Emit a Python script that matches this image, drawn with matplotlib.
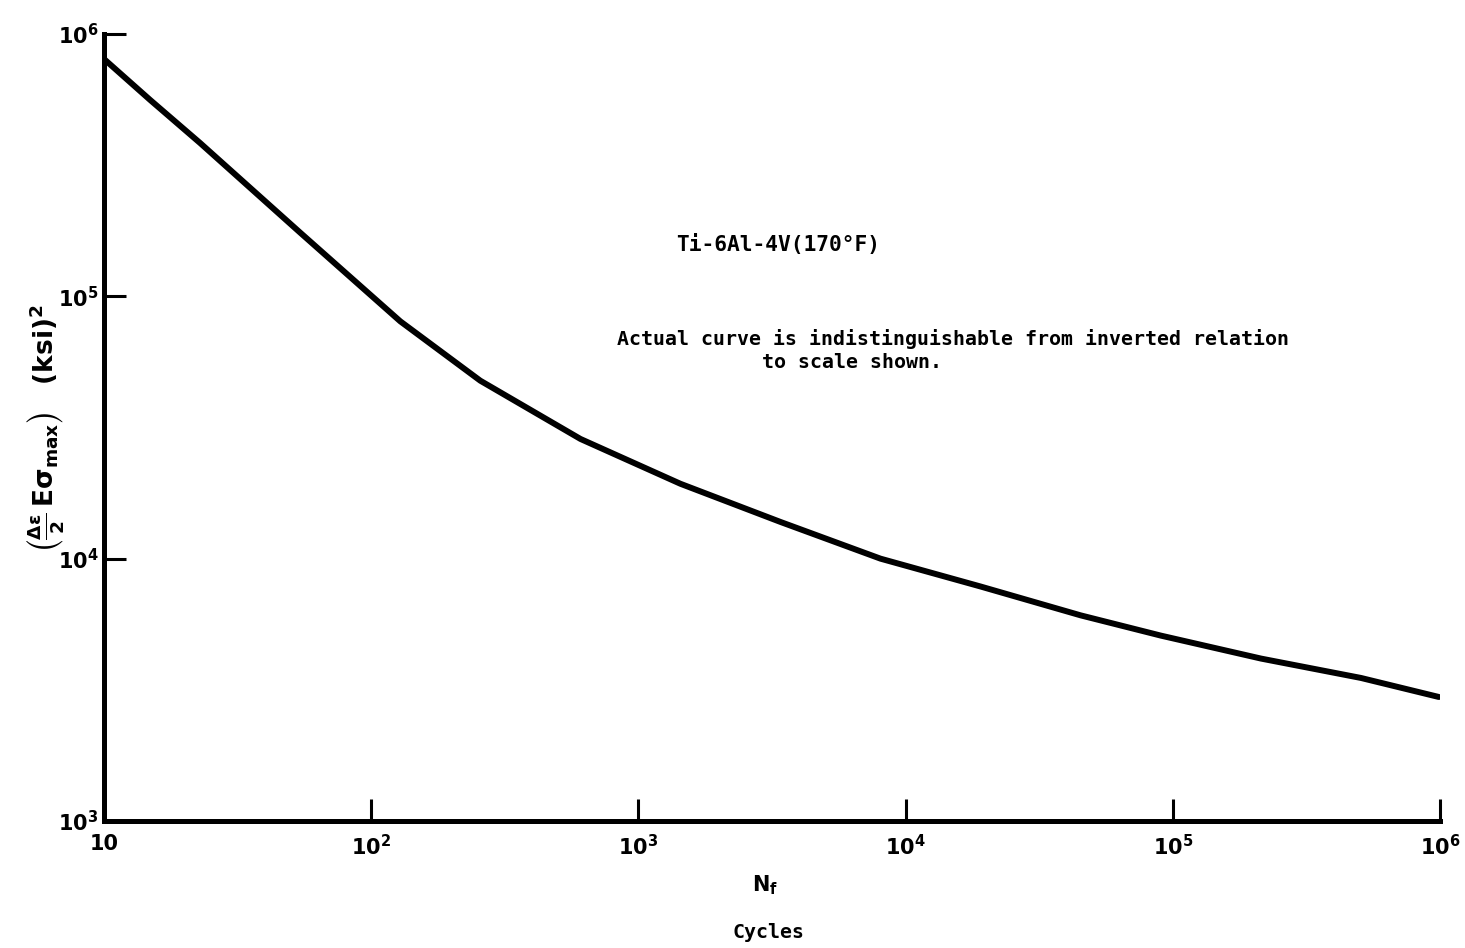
import matplotlib
matplotlib.use("Agg")
import matplotlib.pyplot as plt

# Data (cycles vs (Δε/2 · Eσmax) in ksi^2)
cycles = [10, 14.9, 22.9, 54.2, 128.5, 256, 607, 1436, 3404, 8057,
          19100, 45200, 90200, 214000, 506000, 990000]
stress_param = [8.03e5, 5.60e5, 3.84e5, 1.75e5, 8.03e4, 4.77e4, 2.86e4, 1.93e4,
                1.38e4, 1.0e4, 7.83e3, 6.08e3, 5.09e3, 4.16e3, 3.51e3, 2.97e3]

x_ticks = [10, 1e2, 1e3, 1e4, 1e5, 1e6]
x_tick_labels = ['10', r'$10^{2}$', r'$10^{3}$', r'$10^{4}$', r'$10^{5}$', r'$10^{6}$']
y_ticks = [1e3, 1e4, 1e5, 1e6]
y_tick_labels = [r'$10^{3}$', r'$10^{4}$', r'$10^{5}$', r'$10^{6}$']

plt.rcParams['mathtext.default'] = 'bf'
plt.rcParams['font.weight'] = 'bold'

fig = plt.figure(figsize=(14.65, 9.48), dpi=100)
ax = fig.add_axes([104/1465, 1 - 821/948, (1440-104)/1465, (821-34)/948])

ax.plot(cycles, stress_param, color='black', lw=4.3, solid_capstyle='round',
        solid_joinstyle='round')

ax.set_xscale('log')
ax.set_yscale('log')
ax.set_xlim(10, 1e6)
ax.set_ylim(1e3, 1e6)

for s in ['top', 'right']:
    ax.spines[s].set_visible(False)
for s in ['left', 'bottom']:
    ax.spines[s].set_linewidth(3.6)

ax.set_xticks(x_ticks)
ax.set_xticklabels(x_tick_labels, fontsize=15, fontweight='bold')
ax.set_yticks(y_ticks)
ax.set_yticklabels(y_tick_labels, fontsize=15, fontweight='bold')
ax.minorticks_off()
ax.tick_params(axis='both', which='major', direction='in', length=16, width=2.2)
ax.tick_params(axis='x', pad=9)
ax.tick_params(axis='y', pad=4)

mono = 'DejaVu Sans Mono'
fig.text(676/1465, 1 - 245/948, 'Ti-6Al-4V(170°F)', family=mono, fontsize=15.3,
         fontweight='bold', ha='left', va='center')
fig.text(617/1465, 1 - 339/948, 'Actual curve is indistinguishable from inverted relation',
         family=mono, fontsize=14.3, fontweight='bold', ha='left', va='center')
fig.text(762/1465, 1 - 363/948, 'to scale shown.', family=mono, fontsize=14.3,
         fontweight='bold', ha='left', va='center')

fig.text(765/1465, 1 - 885/948, r'$N_f$', fontsize=15, ha='center', va='center')
fig.text(768/1465, 1 - 932/948, 'Cycles', family=mono, fontsize=14.3,
         fontweight='bold', ha='center', va='center')

fig.text(45/1465, 1 - 428/948,
         r'$\left(\frac{\Delta\epsilon}{2}\,E\sigma_{max}\right)\quad(ksi)^{2}$',
         fontsize=19, rotation=90, ha='center', va='center')

fig.savefig('out.png', dpi=100, facecolor='white')
